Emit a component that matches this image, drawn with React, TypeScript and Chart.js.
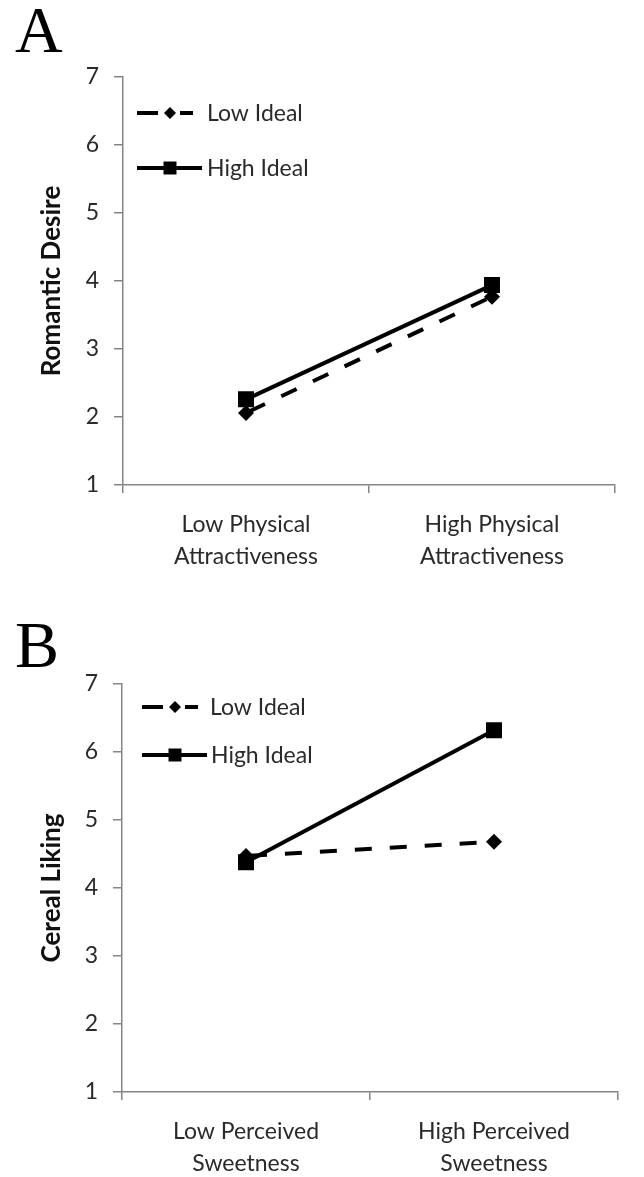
import React, { useEffect, useRef } from 'react';
import { Chart, registerables } from 'chart.js';

Chart.register(...registerables);

// ---- data ----
const seriesNames = ['Low Ideal', 'High Ideal'];
const yTicks = [1, 2, 3, 4, 5, 6, 7];

const categoriesA = [['Low Physical', 'Attractiveness'], ['High Physical', 'Attractiveness']];
const lowIdealA = [2.06, 3.77];
const highIdealA = [2.26, 3.94];
const yTitleA = 'Romantic Desire';

const categoriesB = [['Low Perceived', 'Sweetness'], ['High Perceived', 'Sweetness']];
const lowIdealB = [4.47, 4.68];
const highIdealB = [4.38, 6.32];
const yTitleB = 'Cereal Liking';

// ---- style ----
const W = 644;
const FONT = 'Lato, "Open Sans", sans-serif';
const TEXT = '#2a2a2a';
const AXIS = '#858585';
const FS = 23;

type Area = { left: number; top: number; right: number; bottom: number };
type Row = { dy: number; x0: number; x1: number; xm: number; xt: number };

function makeLegendPlugin(rows: Row[]) {
  return {
    id: 'insideLegend',
    afterDraw(chart: any) {
      const { ctx, chartArea } = chart;
      chart.data.datasets.forEach((ds: any, i: number) => {
        const r = rows[i];
        if (!r) return;
        const y = chartArea.top + r.dy;
        const x0 = chartArea.left + r.x0;
        const x1 = chartArea.left + r.x1;
        const xm = chartArea.left + r.xm;
        const xt = chartArea.left + r.xt;
        ctx.save();
        ctx.strokeStyle = ds.borderColor;
        ctx.lineWidth = ds.borderWidth;
        ctx.lineCap = 'butt';
        ctx.beginPath();
        if (ds.borderDash && ds.borderDash.length) {
          ctx.moveTo(x0, y);
          ctx.lineTo(xm - 12, y);
          ctx.moveTo(xm + 10, y);
          ctx.lineTo(x1, y);
        } else {
          ctx.moveTo(x0, y);
          ctx.lineTo(x1, y);
        }
        ctx.stroke();
        ctx.fillStyle = ds.pointBackgroundColor;
        ctx.beginPath();
        if (ds.pointStyle === 'rectRot') {
          const rr = 6;
          ctx.moveTo(xm, y - rr);
          ctx.lineTo(xm + rr, y);
          ctx.lineTo(xm, y + rr);
          ctx.lineTo(xm - rr, y);
          ctx.closePath();
        } else {
          const s = 6.5;
          ctx.rect(xm - s, y - s, 2 * s, 2 * s);
        }
        ctx.fill();
        ctx.font = `${FS}px ${FONT}`;
        ctx.fillStyle = TEXT;
        ctx.textBaseline = 'middle';
        ctx.textAlign = 'left';
        ctx.fillText(ds.label, xt, y + 1);
        ctx.restore();
      });
    },
  };
}

function Panel(props: {
  top: number;
  height: number;
  labels: string[][];
  low: number[];
  high: number[];
  yTitle: string;
  area: Area;
  rows: Row[];
}) {
  const ref = useRef<HTMLCanvasElement | null>(null);
  useEffect(() => {
    if (!ref.current) return;
    const { area, height } = props;
    const chart = new Chart(ref.current, {
      type: 'line',
      data: {
        labels: props.labels as any,
        datasets: [
          {
            label: seriesNames[0],
            data: props.low,
            borderColor: '#000000',
            borderWidth: 4,
            borderDash: [17, 18],
            borderDashOffset: -4,
            pointStyle: 'rectRot',
            pointRadius: 8,
            pointBackgroundColor: '#000000',
            pointBorderColor: '#000000',
            pointBorderWidth: 0,
            tension: 0,
            order: 2,
          } as any,
          {
            label: seriesNames[1],
            data: props.high,
            borderColor: '#000000',
            borderWidth: 4,
            pointStyle: 'rect',
            pointRadius: 11.3,
            pointBackgroundColor: '#000000',
            pointBorderColor: '#000000',
            pointBorderWidth: 0,
            tension: 0,
            order: 1,
          } as any,
        ],
      },
      options: {
        animation: false,
        responsive: false,
        maintainAspectRatio: false,
        layout: { padding: { top: area.top, right: W - area.right, left: 0, bottom: 0 } },
        plugins: { legend: { display: false }, tooltip: { enabled: false } },
        scales: {
          x: {
            type: 'category',
            offset: true,
            grid: {
              offset: true,
              drawOnChartArea: false,
              drawTicks: true,
              tickLength: 8,
              color: AXIS,
              lineWidth: 1.5,
            },
            border: { display: true, color: AXIS, width: 1.5 },
            ticks: {
              font: { family: FONT, size: FS, lineHeight: 32 / FS },
              color: TEXT,
              padding: 16,
              maxRotation: 0,
              autoSkip: false,
            },
            afterFit: (s: any) => {
              s.height = height - area.bottom;
            },
          },
          y: {
            min: 1,
            max: 7,
            afterBuildTicks: (s: any) => {
              s.ticks = yTicks.map((v) => ({ value: v }));
            },
            grid: {
              drawOnChartArea: false,
              drawTicks: true,
              tickLength: 9,
              color: AXIS,
              lineWidth: 1.5,
            },
            border: { display: true, color: AXIS, width: 1.5 },
            ticks: {
              font: { family: FONT, size: FS },
              color: TEXT,
              padding: 15,
            },
            title: {
              display: true,
              text: props.yTitle,
              font: { family: FONT, size: 26, weight: 'bold' },
              color: '#111111',
              padding: { top: 36, bottom: 0 },
            },
            afterFit: (s: any) => {
              s.width = area.left;
            },
          },
        },
      } as any,
      plugins: [makeLegendPlugin(props.rows)],
    });
    return () => chart.destroy();
  }, []);
  return (
    <canvas
      ref={ref}
      width={W}
      height={props.height}
      style={{ position: 'absolute', left: 0, top: props.top, width: W, height: props.height, display: 'block' }}
    />
  );
}

const letterStyle: React.CSSProperties = {
  position: 'absolute',
  left: 15,
  fontFamily: '"Liberation Serif", "Times New Roman", serif',
  fontSize: 66,
  lineHeight: '66px',
  color: '#000',
};

export default function App() {
  return (
    <div style={{ position: 'absolute', left: 0, top: 0, width: W, height: 1177, background: '#fff', overflow: 'hidden' }}>
      <div style={{ ...letterStyle, top: -3 }}>A</div>
      <div style={{ ...letterStyle, top: 612 }}>B</div>
      <Panel
        top={0}
        height={600}
        labels={categoriesA}
        low={lowIdealA}
        high={highIdealA}
        yTitle={yTitleA}
        area={{ left: 123, top: 77, right: 615, bottom: 485 }}
        rows={[
          { dy: 36, x0: 14, x1: 70, xm: 47, xt: 84 },
          { dy: 91, x0: 14, x1: 79, xm: 47, xt: 84 },
        ]}
      />
      <Panel
        top={600}
        height={577}
        labels={categoriesB}
        low={lowIdealB}
        high={highIdealB}
        yTitle={yTitleB}
        area={{ left: 122, top: 84, right: 618, bottom: 492 }}
        rows={[
          { dy: 23, x0: 20, x1: 76, xm: 53, xt: 88 },
          { dy: 71, x0: 20, x1: 85, xm: 53, xt: 89 },
        ]}
      />
    </div>
  );
}
